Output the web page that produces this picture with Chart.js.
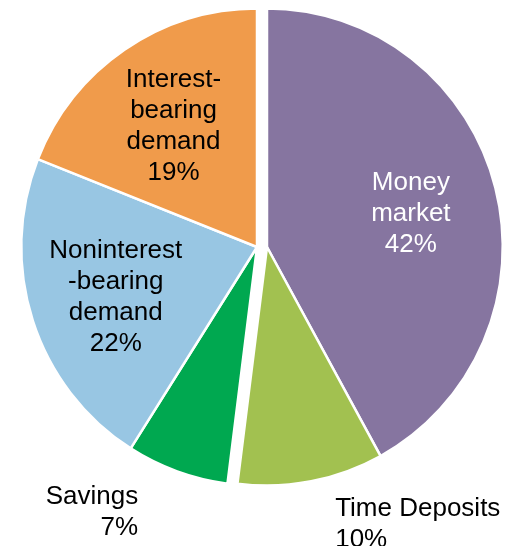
<!DOCTYPE html>
<html>
<head>
<meta charset="utf-8">
<script src="https://cdn.jsdelivr.net/npm/chart.js@4/dist/chart.umd.min.js"></script>
<style>
  html, body { margin: 0; padding: 0; background: #fff; }
  #wrap { width: 512px; height: 546px; }
</style>
</head>
<body>
<div id="wrap"><canvas id="myChart"></canvas></div>
<script>
// deposit mix, clockwise from 12 o'clock
const categories = ["Money market", "Time Deposits", "Savings", "Noninterest-bearing demand", "Interest-bearing demand"];
const shares = [42, 10, 7, 22, 19];
const labelLines = [["Money", "market"], ["Time Deposits"], ["Savings"], ["Noninterest", "-bearing", "demand"], ["Interest-", "bearing", "demand"]];

const colors = ["#8675A0", "#A2C150", "#00A850", "#98C6E3", "#F09B4B"];
const textColors = ["#fff", "#000", "#000", "#000", "#000"];

// the pie is split in two halves, right side pulled away from the left
const shiftX = [5, 5, -5, -5, -5];
// the original pie is a touch taller than wide
const stretchY = 1.012;
// outside labels: [dx, dy, align] from the rim point, null = inside
const outside = [null, [24, 25, "left"], [-39, 23, "right"], null, null];

const FONT = "26px 'Liberation Sans', Arial, sans-serif";
const LINE_H = 31;

const splitPie = {
  id: "splitPie",
  afterDatasetsUpdate(chart) {
    chart.getDatasetMeta(0).data.forEach((arc, i) => {
      arc.x += shiftX[i];
    });
  },
  beforeDatasetsDraw(chart) {
    const area = chart.chartArea;
    const cy = (area.top + area.bottom) / 2;
    chart.ctx.save();
    chart.ctx.translate(0, cy);
    chart.ctx.scale(1, stretchY);
    chart.ctx.translate(0, -cy);
  },
  afterDatasetsDraw(chart) {
    chart.ctx.restore();
  },
};

const pieLabels = {
  id: "pieLabels",
  afterDatasetsDraw(chart) {
    const ctx = chart.ctx;
    ctx.save();
    ctx.font = FONT;
    ctx.textBaseline = "alphabetic";
    chart.getDatasetMeta(0).data.forEach((arc, i) => {
      const { x, y, startAngle, endAngle, outerRadius } = arc.getProps(["x", "y", "startAngle", "endAngle", "outerRadius"]);
      const mid = (startAngle + endAngle) / 2;
      const lines = labelLines[i].concat([shares[i] + "%"]);
      ctx.fillStyle = textColors[i];
      if (outside[i]) {
        const ex = x + Math.cos(mid) * outerRadius;
        const ey = y + Math.sin(mid) * outerRadius * stretchY;
        ctx.textAlign = outside[i][2];
        lines.forEach((t, k) => {
          ctx.fillText(t, ex + outside[i][0], ey + outside[i][1] + k * LINE_H + 9.3);
        });
      } else {
        const r = outerRadius * 0.63;
        const cx = x + Math.cos(mid) * r;
        const cy = y + Math.sin(mid) * r * stretchY + 2;
        ctx.textAlign = "center";
        lines.forEach((t, k) => {
          ctx.fillText(t, cx, cy + (k - (lines.length - 1) / 2) * LINE_H + 9.3);
        });
      }
    });
    ctx.restore();
  },
};

const ctx = document.getElementById("myChart").getContext("2d");
const myChart = new Chart(ctx, {
  type: "pie",
  data: {
    labels: categories,
    datasets: [
      {
        data: shares,
        backgroundColor: colors,
        borderColor: "#fff",
        borderWidth: 2.5,
        hoverBorderWidth: 2.5,
        hoverOffset: 0,
      },
    ],
  },
  options: {
    responsive: true,
    maintainAspectRatio: false,
    animation: false,
    layout: { padding: { left: 25, right: 13, top: 10, bottom: 62 } },
    plugins: {
      legend: { display: false },
      tooltip: { enabled: false },
    },
  },
  plugins: [splitPie, pieLabels],
});
</script>
</body>
</html>
